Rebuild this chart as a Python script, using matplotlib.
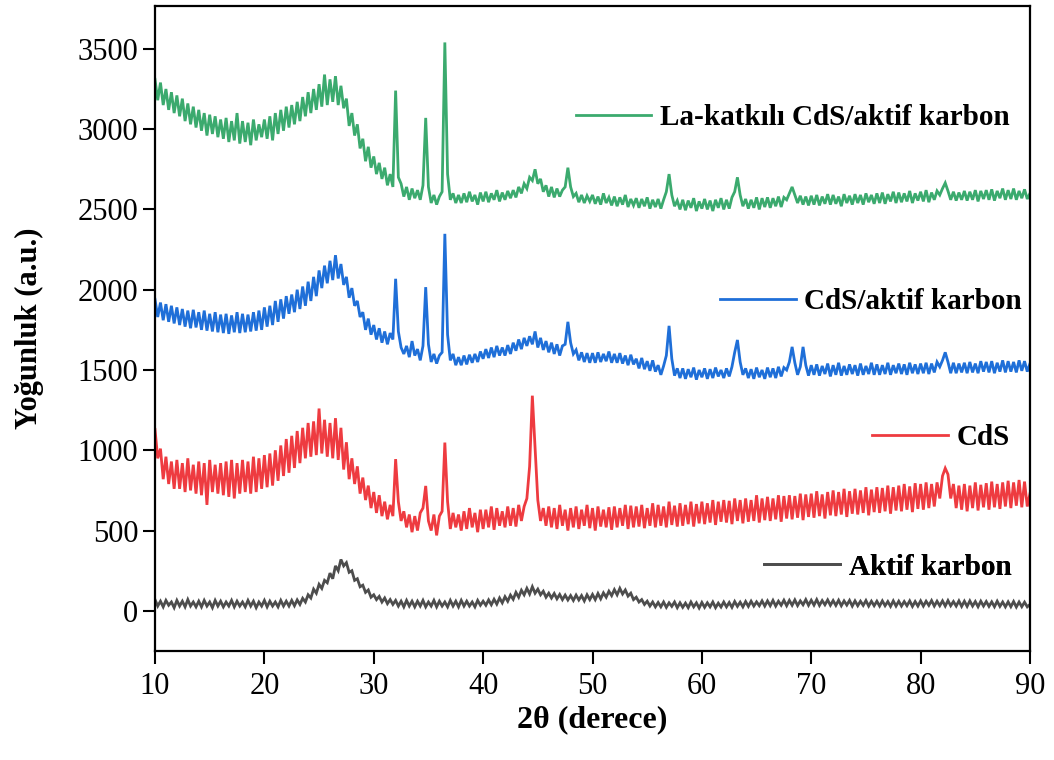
import numpy as np
import matplotlib
matplotlib.use("Agg")
import matplotlib.pyplot as plt
from matplotlib.lines import Line2D

# 2θ sampling (degrees), 0.25° step from 10 to 90
two_theta = np.linspace(10, 90, 321)

# La-katkılı CdS/aktif karbon
la_cds_ac = [
    3310, 3180, 3290, 3150, 3250, 3120, 3230, 3100,
    3210, 3080, 3190, 3050, 3160, 3030, 3140, 3010,
    3120, 2990, 3100, 2960, 3090, 2970, 3080, 2950,
    3060, 2940, 3070, 2920, 3050, 2930, 3100, 2910,
    3050, 2920, 3040, 2900, 3060, 2930, 3030, 2950,
    3060, 2940, 3080, 2930, 3100, 2970, 3120, 2990,
    3140, 3010, 3150, 3030, 3170, 3050, 3200, 3080,
    3230, 3100, 3250, 3120, 3280, 3140, 3340, 3150,
    3310, 3170, 3330, 3150, 3270, 3130, 3190, 3020,
    3100, 2960, 3030, 2880, 2940, 2800, 2890, 2760,
    2830, 2720, 2790, 2690, 2760, 2650, 2720, 2640,
    3240, 2700, 2660, 2580, 2640, 2560, 2630, 2570,
    2620, 2560, 2650, 3070, 2640, 2540, 2590, 2530,
    2580, 2610, 3540, 2720, 2560, 2600, 2540, 2590,
    2540, 2600, 2545, 2610, 2550, 2590, 2530, 2605,
    2550, 2610, 2545, 2600, 2560, 2620, 2550, 2605,
    2560, 2615, 2570, 2620, 2575, 2640, 2600, 2660,
    2630, 2700, 2680, 2750, 2660, 2690, 2610, 2650,
    2580, 2640, 2575, 2630, 2580, 2620, 2640, 2760,
    2640, 2580, 2600, 2545, 2590, 2540, 2585, 2550,
    2590, 2535, 2580, 2530, 2600, 2540, 2575, 2525,
    2580, 2520, 2575, 2530, 2590, 2515, 2565, 2525,
    2570, 2510, 2565, 2520, 2575, 2505, 2560, 2515,
    2565, 2505, 2560, 2610, 2720, 2590, 2520, 2555,
    2500, 2560, 2495, 2555, 2510, 2570, 2490, 2550,
    2505, 2565, 2500, 2555, 2490, 2560, 2510, 2570,
    2500, 2560, 2505, 2575, 2610, 2700, 2590, 2520,
    2565, 2505, 2560, 2510, 2575, 2500, 2570, 2515,
    2575, 2510, 2570, 2520, 2580, 2515, 2575, 2560,
    2600, 2640, 2590, 2540, 2585, 2530, 2580, 2525,
    2585, 2530, 2590, 2525, 2580, 2535, 2595, 2530,
    2590, 2535, 2580, 2520, 2595, 2540, 2585, 2530,
    2595, 2540, 2590, 2530, 2600, 2545, 2590, 2535,
    2600, 2540, 2605, 2535, 2595, 2550, 2610, 2540,
    2605, 2545, 2600, 2550, 2615, 2540, 2600, 2555,
    2610, 2550, 2620, 2545, 2605, 2560, 2615, 2590,
    2630, 2665, 2615, 2560, 2610, 2555, 2605, 2560,
    2615, 2555, 2610, 2560, 2620, 2550, 2615, 2565,
    2620, 2560, 2625, 2555, 2615, 2570, 2630, 2560,
    2620, 2565, 2630, 2560, 2615, 2570, 2625, 2565,
    2600,
]

# CdS/aktif karbon
cds_ac = [
    1940, 1830, 1920, 1810, 1910, 1800, 1900, 1790,
    1890, 1780, 1880, 1770, 1870, 1760, 1875, 1765,
    1860, 1750, 1870, 1745, 1850, 1740, 1860, 1735,
    1845, 1730, 1850, 1725, 1840, 1735, 1860, 1730,
    1850, 1735, 1845, 1740, 1860, 1745, 1870, 1750,
    1890, 1770, 1900, 1780, 1930, 1800, 1940, 1820,
    1960, 1850, 1970, 1860, 2000, 1880, 2020, 1900,
    2050, 1930, 2080, 1960, 2120, 2010, 2150, 2040,
    2180, 2060, 2215, 2070, 2160, 2030, 2080, 1950,
    2010, 1900, 1930, 1830, 1860, 1750, 1820, 1720,
    1780, 1690, 1760, 1670, 1740, 1660, 1730, 1690,
    2068, 1740, 1640, 1600, 1650, 1580, 1680, 1590,
    1630, 1560, 1650, 2016, 1660, 1550, 1600, 1540,
    1590, 1610, 2348, 1720, 1560, 1600, 1530, 1580,
    1530, 1590, 1535, 1595, 1545, 1600, 1550, 1615,
    1570, 1630, 1575, 1640, 1580, 1650, 1590, 1640,
    1590, 1655, 1600, 1670, 1620, 1690, 1630, 1700,
    1650, 1710, 1660, 1740, 1640, 1700, 1625, 1680,
    1610, 1670, 1600, 1660, 1590, 1650, 1660, 1800,
    1670, 1600, 1625, 1560, 1610, 1550, 1605, 1545,
    1605, 1545, 1610, 1550, 1600, 1555, 1615, 1545,
    1600, 1545, 1605, 1540, 1590, 1530, 1595, 1535,
    1570, 1510, 1575, 1505, 1555, 1495, 1560, 1490,
    1530, 1470, 1525, 1590, 1775, 1570, 1465, 1510,
    1450, 1510, 1445, 1505, 1455, 1515, 1440, 1500,
    1455, 1510, 1445, 1505, 1450, 1515, 1460, 1500,
    1450, 1510, 1460, 1520, 1610, 1687, 1550, 1470,
    1510, 1450, 1505, 1445, 1515, 1455, 1500, 1445,
    1515, 1455, 1510, 1450, 1520, 1460, 1515, 1500,
    1550, 1644, 1545, 1470, 1520, 1644, 1530, 1465,
    1530, 1470, 1535, 1465, 1525, 1475, 1540, 1460,
    1530, 1470, 1545, 1465, 1525, 1470, 1535, 1475,
    1530, 1465, 1540, 1470, 1525, 1475, 1545, 1470,
    1535, 1470, 1530, 1475, 1545, 1470, 1530, 1480,
    1540, 1475, 1535, 1470, 1545, 1480, 1535, 1475,
    1540, 1480, 1545, 1475, 1540, 1485, 1550, 1520,
    1560, 1610, 1550, 1480, 1545, 1480, 1540, 1485,
    1545, 1480, 1550, 1485, 1540, 1480, 1555, 1490,
    1550, 1485, 1555, 1480, 1545, 1490, 1560, 1485,
    1555, 1490, 1550, 1485, 1560, 1495, 1555, 1490,
    1540,
]

# CdS
cds = [
    1130, 950, 1010, 820, 960, 790, 930, 760,
    940, 760, 920, 740, 950, 750, 910, 730,
    930, 720, 920, 660, 940, 740, 910, 730,
    920, 720, 930, 710, 940, 700, 920, 730,
    940, 740, 930, 730, 960, 740, 950, 760,
    970, 770, 980, 780, 1000, 810, 1030, 840,
    1070, 860, 1090, 890, 1120, 920, 1140, 950,
    1170, 960, 1180, 970, 1260, 980, 1190, 960,
    1170, 950, 1200, 940, 1140, 880, 1050, 820,
    950, 790, 900, 730, 830, 690, 780, 640,
    740, 610, 720, 590, 680, 570, 660, 590,
    945, 680, 560, 620, 520, 600, 490, 590,
    500, 610, 640, 778, 560, 500, 600, 470,
    590, 620, 1048, 680, 510, 610, 520, 600,
    500, 620, 510, 640, 520, 610, 490, 630,
    510, 630, 520, 650, 505, 640, 530, 620,
    520, 650, 530, 640, 525, 660, 560, 650,
    700, 900, 1340, 1010, 690, 560, 640, 530,
    650, 520, 640, 510, 660, 530, 630, 500,
    640, 520, 650, 510, 630, 530, 660, 515,
    640, 500, 650, 525, 630, 520, 645, 505,
    650, 520, 640, 530, 660, 510, 655, 520,
    650, 525, 660, 515, 640, 530, 670, 520,
    660, 530, 650, 520, 680, 535, 655, 525,
    670, 530, 660, 540, 680, 525, 665, 545,
    680, 540, 670, 550, 690, 535, 680, 555,
    690, 550, 685, 540, 700, 560, 690, 545,
    700, 555, 690, 560, 720, 550, 700, 565,
    710, 560, 700, 570, 720, 555, 715, 575,
    720, 570, 715, 580, 730, 565, 725, 585,
    730, 580, 745, 590, 725, 575, 740, 595,
    750, 590, 740, 600, 760, 585, 745, 605,
    760, 600, 750, 610, 770, 595, 755, 615,
    770, 610, 765, 620, 780, 605, 770, 625,
    780, 620, 790, 630, 775, 615, 795, 635,
    790, 630, 800, 640, 790, 650, 800, 700,
    840, 888, 850, 700, 790, 640, 780, 630,
    790, 620, 780, 640, 800, 625, 785, 645,
    795, 630, 805, 645, 790, 635, 800, 650,
    810, 640, 800, 655, 815, 645, 805, 650,
    730,
]

# Aktif karbon
ac = [
    70, 30, 60, 25, 65, 35, 55, 20,
    65, 30, 60, 25, 70, 30, 55, 25,
    60, 25, 65, 30, 55, 20, 65, 30,
    60, 25, 55, 30, 65, 25, 60, 30,
    55, 25, 65, 30, 60, 20, 55, 30,
    65, 25, 60, 30, 55, 25, 65, 30,
    60, 30, 65, 32, 68, 40, 78, 55,
    100, 80, 135, 110, 165, 140, 190, 175,
    235, 200, 280, 250, 320, 280, 300, 240,
    250, 190, 200, 150, 160, 115, 130, 85,
    100, 70, 90, 55, 80, 45, 70, 40,
    65, 30, 60, 25, 65, 30, 60, 25,
    60, 30, 65, 25, 55, 30, 65, 25,
    60, 30, 55, 25, 65, 30, 60, 25,
    65, 30, 60, 30, 55, 25, 65, 35,
    60, 35, 68, 38, 72, 42, 80, 50,
    88, 60, 98, 72, 115, 85, 128, 100,
    140, 105, 150, 110, 135, 100, 122, 85,
    110, 80, 108, 75, 102, 70, 98, 68,
    95, 65, 98, 68, 95, 62, 100, 70,
    102, 70, 108, 75, 112, 85, 122, 95,
    132, 100, 140, 105, 130, 92, 110, 70,
    85, 55, 70, 40, 60, 30, 55, 25,
    52, 25, 55, 22, 50, 28, 55, 20,
    50, 22, 48, 20, 55, 25, 50, 18,
    52, 22, 50, 25, 55, 20, 48, 24,
    55, 25, 52, 22, 58, 28, 54, 25,
    58, 28, 60, 30, 56, 32, 62, 30,
    62, 32, 65, 30, 60, 35, 66, 32,
    65, 35, 68, 33, 62, 38, 70, 35,
    66, 36, 70, 34, 64, 38, 68, 35,
    64, 34, 66, 32, 62, 36, 65, 30,
    62, 32, 60, 34, 64, 30, 60, 32,
    60, 30, 62, 32, 58, 28, 62, 30,
    60, 30, 58, 32, 62, 28, 58, 30,
    62, 30, 60, 34, 64, 30, 60, 32,
    62, 30, 64, 32, 58, 30, 62, 28,
    60, 28, 62, 30, 58, 26, 60, 30,
    58, 28, 56, 26, 60, 28, 55, 25,
    56, 26, 58, 24, 55, 26, 54, 25,
    40,
]

labels = ["La-katkılı CdS/aktif karbon", "CdS/aktif karbon", "CdS", "Aktif karbon"]
colors = ["#3BAA6E", "#1F6FD8", "#EE3B40", "#4D4D4D"]
series = [la_cds_ac, cds_ac, cds, ac]

plt.rcParams['font.family'] = ['Liberation Serif', 'DejaVu Serif']

fig = plt.figure(figsize=(10.54, 7.60), dpi=100)
ax = fig.add_axes([155 / 1054, 109 / 760, 875 / 1054, 645.5 / 760])

for ys, c in zip(series[::-1], colors[::-1]):
    ax.plot(two_theta, ys, color=c, lw=2.0, solid_joinstyle='miter')

ax.set_xlim(10, 90)
ax.set_ylim(-250, 3770)
ax.set_xticks(np.arange(10, 91, 10))
ax.set_yticks(np.arange(0, 3501, 500))
ax.tick_params(axis='both', direction='out', length=9, width=1.5,
               labelsize=22, top=False, right=False)
ax.tick_params(axis='x', pad=6)
ax.tick_params(axis='y', pad=3)
for s in ax.spines.values():
    s.set_linewidth(1.6)

ax.set_xlabel("2θ (derece)", fontsize=23, fontweight='bold', labelpad=3)
ax.set_ylabel("Yoğunluk (a.u.)", fontsize=22, fontweight='bold', labelpad=24)

# per-series legend entries placed next to each curve
anchors = [(0.977, 0.826), (0.991, 0.541), (0.977, 0.330), (0.979, 0.130)]
for lab, c, (bx, by) in zip(labels, colors, anchors):
    h = Line2D([], [], color=c, lw=2)
    lg = ax.legend([h], [lab], loc='center right', bbox_to_anchor=(bx, by),
                   frameon=False, borderpad=0, borderaxespad=0,
                   handlelength=2.6, handletextpad=0.3,
                   prop={'family': 'Liberation Serif', 'weight': 'bold', 'size': 21})
    ax.add_artist(lg)

fig.savefig("out.png", dpi=100)
